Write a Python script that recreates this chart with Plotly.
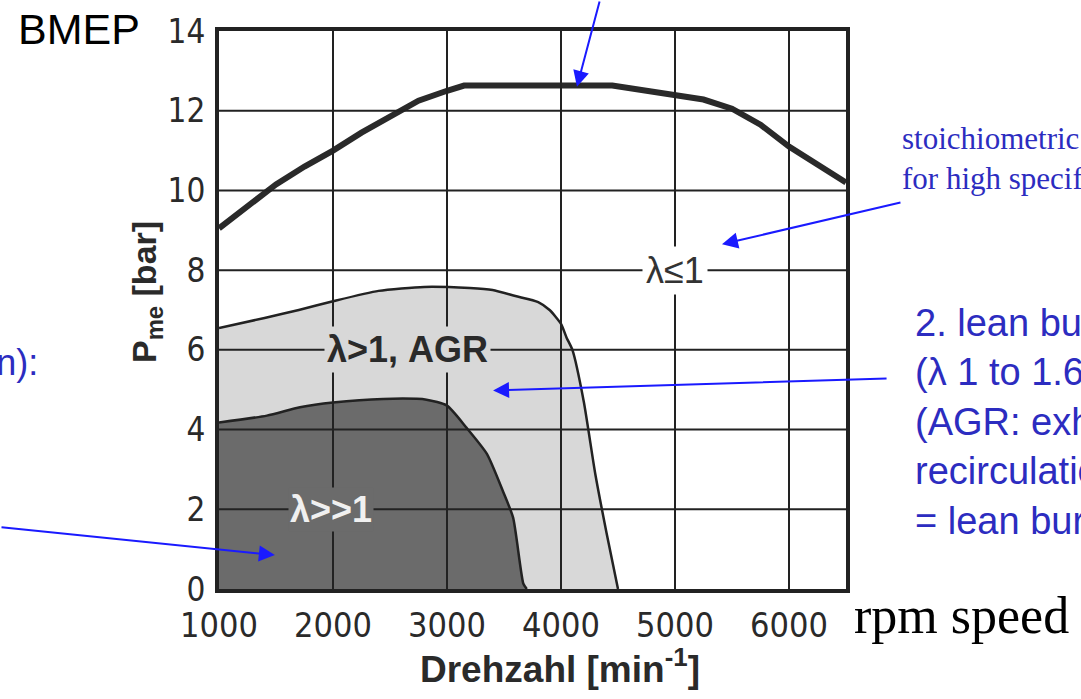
import plotly.graph_objects as go

# ---------------- data ----------------
full_rpm = [1000, 1250, 1500, 1750, 2000, 2250, 2500, 2750, 3000, 3150, 4450, 4750, 5000, 5250, 5500, 5750, 6000, 6250, 6500]
full_bmep = [9.05, 9.6, 10.15, 10.6, 11.0, 11.45, 11.85, 12.25, 12.5, 12.63, 12.63, 12.5, 12.42, 12.28, 12.05, 11.65, 11.1, 10.65, 10.2]

agr_rpm = [1000, 1400, 1700, 2000, 2400, 2800, 3200, 3400, 3600, 3800, 3900, 4000, 4050, 4100, 4200, 4300, 4400, 4500]
agr_bmep = [6.55, 6.8, 7.0, 7.22, 7.48, 7.58, 7.55, 7.5, 7.35, 7.2, 7.0, 6.65, 6.3, 6.0, 4.7, 2.9, 1.4, 0.0]

lean_rpm = [1000, 1420, 1710, 2000, 2440, 2820, 3000, 3170, 3350, 3490, 3580, 3670, 3700]
lean_bmep = [4.18, 4.35, 4.56, 4.68, 4.77, 4.75, 4.6, 4.05, 3.39, 2.46, 1.79, 0.13, 0.0]

x_ticks = [1000, 2000, 3000, 4000, 5000, 6000]
y_ticks = [0, 2, 4, 6, 8, 10, 12, 14]
x_grid = [2000, 3000, 4000, 5000, 6000]
y_grid = [2, 4, 6, 8, 10, 12]

# ---------------- layout geometry ----------------
FW, FH = 1081, 699
L, R, T, B = 219, 235, 31, 110
PW, PH = FW - L - R, FH - T - B


def pxx(p):
    return (p - L) / PW


def pxy(p):
    return (FH - B - p) / PH


INK = "#222222"
BLUE_TXT = "#2c2cc0"
BLUE_ARR = "#1a1aff"
TICKFONT = "Liberation Sans Narrow, Arial Narrow, DejaVu Sans Condensed, sans-serif"
SANS = "Liberation Sans, Arial, sans-serif"
SERIF = "Liberation Serif, Times New Roman, serif"

fig = go.Figure()

fig.add_trace(go.Scatter(x=agr_rpm, y=agr_bmep, mode="lines", fill="tozeroy",
                         fillcolor="#d8d8d8", line=dict(color=INK, width=2.5, shape="spline", smoothing=0.6),
                         hoverinfo="skip", showlegend=False))
fig.add_trace(go.Scatter(x=lean_rpm, y=lean_bmep, mode="lines", fill="tozeroy",
                         fillcolor="#6b6b6b", line=dict(color=INK, width=2.5, shape="spline", smoothing=0.6),
                         hoverinfo="skip", showlegend=False))
fig.add_trace(go.Scatter(x=full_rpm, y=full_bmep, mode="lines",
                         line=dict(color="#2a2a2a", width=6),
                         hoverinfo="skip", showlegend=False))

shapes = []
for gx in x_grid:
    shapes.append(dict(type="line", xref="x", yref="paper", x0=gx, x1=gx, y0=0, y1=1,
                       line=dict(color=INK, width=2), layer="above"))
for gy in y_grid:
    shapes.append(dict(type="line", xref="paper", yref="y", x0=0, x1=1, y0=gy, y1=gy,
                       line=dict(color=INK, width=2), layer="above"))

ann = []
# region labels inside the chart
ann.append(dict(x=5000, y=8, xref="x", yref="y", text="λ≤1", showarrow=False,
                font=dict(family=SANS, size=36, color="#333333"),
                bgcolor="white", borderpad=3, xanchor="center", yanchor="middle"))
ann.append(dict(x=2650, y=6, xref="x", yref="y", text="<b>λ>1, AGR</b>", showarrow=False,
                font=dict(family=SANS, size=36, color="#2a2a2a"),
                bgcolor="#d8d8d8", borderpad=2, xanchor="center", yanchor="middle"))
ann.append(dict(x=1985, y=2, xref="x", yref="y", text="<b>λ>>1</b>", showarrow=False,
                font=dict(family=SANS, size=36, color="#f0f0f0"),
                bgcolor="#6b6b6b", borderpad=1, xanchor="center", yanchor="middle"))

# axis titles
ann.append(dict(x=pxx(146), y=pxy(292), xref="paper", yref="paper",
                text="<b>P<sub>me</sub> [bar]</b>", textangle=-90, showarrow=False,
                font=dict(family=SANS, size=34, color="#2a2a2a"),
                xanchor="center", yanchor="middle"))
ann.append(dict(x=pxx(560), y=pxy(666), xref="paper", yref="paper",
                text="<b>Drehzahl [min<sup>-1</sup>]</b>", showarrow=False,
                font=dict(family=SANS, size=37, color="#2a2a2a"),
                xanchor="center", yanchor="middle"))

# outside texts
ann.append(dict(x=pxx(16), y=pxy(29), xref="paper", yref="paper", text="BMEP", showarrow=False,
                font=dict(family=SANS, size=43, color="black"),
                xanchor="left", yanchor="middle"))
ann.append(dict(x=pxx(852), y=pxy(615), xref="paper", yref="paper", text="rpm speed", showarrow=False,
                font=dict(family=SERIF, size=52, color="black"),
                xanchor="left", yanchor="middle"))
ann.append(dict(x=pxx(900), y=pxy(158), xref="paper", yref="paper",
                text="stoichiometric operation<br>for high specific loads", showarrow=False, align="left",
                font=dict(family=SERIF, size=31, color=BLUE_TXT),
                xanchor="left", yanchor="middle"))
ann.append(dict(x=pxx(913), y=pxy(422), xref="paper", yref="paper",
                text="2. lean burn<br>(λ 1 to 1.6)<br>(AGR: exhaust gas<br>recirculation)<br>= lean burn",
                showarrow=False, align="left",
                font=dict(family=SANS, size=38, color=BLUE_TXT),
                xanchor="left", yanchor="middle"))
ann.append(dict(x=pxx(40), y=pxy(362), xref="paper", yref="paper",
                text="1. stratified operation (direct injection):", showarrow=False,
                font=dict(family=SANS, size=36, color=BLUE_TXT),
                xanchor="right", yanchor="middle"))

# blue arrows
arrows = [
    (4140, 12.6, 23, -92),
    (5412, 8.65, 180, -42),
    (3404, 4.98, 395, -12),
    (1490, 0.85, -282, -28),
]
for ax_, ay_, dx, dy in arrows:
    ann.append(dict(x=ax_, y=ay_, xref="x", yref="y", ax=dx, ay=dy, text="",
                    showarrow=True, arrowhead=2, arrowsize=1.6, arrowwidth=2, arrowcolor=BLUE_ARR))

fig.update_layout(
    width=FW, height=FH,
    margin=dict(l=L, r=R, t=T, b=B),
    paper_bgcolor="white", plot_bgcolor="white",
    shapes=shapes, annotations=ann, showlegend=False,
    xaxis=dict(range=[1000, 6500], tickvals=x_ticks, ticktext=[str(v) for v in x_ticks],
               showgrid=False, zeroline=False, showline=True, linewidth=4, linecolor=INK, mirror=True,
               ticks="", ticklabelstandoff=3, layer="above traces",
               tickfont=dict(family=TICKFONT, size=34, color="#2a2a2a")),
    yaxis=dict(range=[0, 14], tickvals=y_ticks, ticktext=[str(v) for v in y_ticks],
               showgrid=False, zeroline=False, showline=True, linewidth=4, linecolor=INK, mirror=True,
               ticks="", ticklabelstandoff=3, layer="above traces",
               tickfont=dict(family=TICKFONT, size=33, color="#2a2a2a")),
)

fig.write_html("out.html")
